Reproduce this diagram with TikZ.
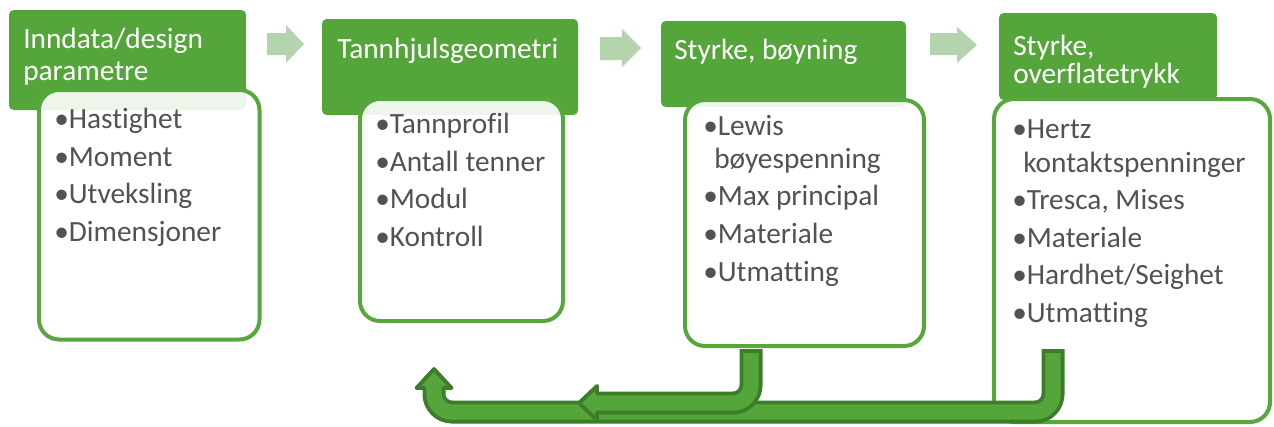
\documentclass[tikz,border=0pt]{standalone}
\usepackage{fontspec}
\setmainfont{Carlito}[Ligatures={NoCommon}]
\usetikzlibrary{fit}
\definecolor{hdr}{RGB}{84,166,58}
\definecolor{bord}{RGB}{86,168,60}
\definecolor{dk}{RGB}{60,125,42}
\definecolor{fl}{RGB}{84,166,58}
\definecolor{lt}{RGB}{180,212,174}
\definecolor{txt}{RGB}{82,82,82}
\begin{document}
\begin{tikzpicture}[x=0.75pt,y=-0.75pt,
  hdrbox/.style={fill=hdr, draw=none, rounded corners=3.5pt, inner sep=0pt},
  bodybox/.style={draw=bord, line width=3pt, fill=white, fill opacity=0.9, rounded corners=15pt, inner sep=0pt},
  hdrtxt/.style={text=white, font=\fontsize{22}{24}\selectfont, anchor=base west, inner sep=0pt},
  item/.style={text=txt, font=\fontsize{22}{24}\selectfont, anchor=base west, inner sep=0pt},
  smallarrow/.style={fill=lt, draw=none},
  pipeout/.style={draw=dk, line width=17.25pt, line cap=butt, rounded corners=13.5pt},
  pipein/.style={draw=fl, line width=11.5pt, line cap=butt, rounded corners=13.5pt},
  headfill/.style={fill=fl, draw=none},
  headline/.style={draw=dk, line width=2.9pt, line join=round, line cap=round}
]
\useasboundingbox (0,0) rectangle (1274,426);
\clip (0,0) rectangle (1274,426);

% headers
\node[hdrbox, fit={(9,10) (246,110)}] (h1) {};
\node[hdrbox, fit={(322,19) (578,115)}] (h2) {};
\node[hdrbox, fit={(661,21) (906,107)}] (h3) {};
\node[hdrbox, fit={(999,13) (1217,100)}] (h4) {};

% bodies
\node[bodybox, fit={(39,90) (259.5,339.5)}] (b1) {};
\node[bodybox, fit={(360,99) (563,321)}] (b2) {};
\node[bodybox, fit={(685,100) (924,346)}] (b3) {};
\node[bodybox, fit={(994,99) (1270,422)}] (b4) {};

% small arrows
\fill[smallarrow] (267,33) -- (286,33) -- (286,25) -- (304,44) -- (286,63) -- (286,55) -- (267,55) -- cycle;
\fill[smallarrow] (600,37) -- (622,37) -- (622,29) -- (641,48) -- (622,67) -- (622,60) -- (600,60) -- cycle;
\fill[smallarrow] (930,33) -- (957,33) -- (957,27) -- (977,45) -- (957,63) -- (957,55) -- (930,55) -- cycle;

% feedback arrow B (from box 4)
\coordinate (bS) at (1053,349);
\coordinate (bS2) at (1053,353);
\coordinate (bK) at (1053,412);
\coordinate (bL) at (434,412);
\coordinate (bE) at (434,388);
\draw[pipeout] (bS) -- (bK) -- (bL) -- (bE);
\draw[pipein] (bS2) -- (bK) -- (bL) -- (bE);
\fill[headfill] (416.5,388) -- (434,369) -- (451.5,388) -- cycle;
\draw[headline] (434-9.5,388) -- (416.5,388) -- (434,369) -- (451.5,388) -- (434+9.5,388);

% feedback arrow A (from box 3)
\coordinate (aS) at (751,349);
\coordinate (aS2) at (751,353);
\coordinate (aK) at (751,403);
\coordinate (aE) at (597,403);
\draw[pipeout] (aS) -- (aK) -- (aE);
\draw[pipein] (aS2) -- (aK) -- (aE);
\fill[headfill] (597,386) -- (579,403) -- (597,420) -- cycle;
\draw[headline] (597,403-9.5) -- (597,386) -- (579,403) -- (597,420) -- (597,403+9.5);

% header texts
\node[hdrtxt] (t1a) at (23,48) {Inndata/design};
\node[hdrtxt] (t1b) at (23,80) {parametre};
\node[hdrtxt] (t2) at (337,58) {Tannhjulsgeometri};
\node[hdrtxt] (t3) at (674,59) {Styrke, bøyning};
\node[hdrtxt] (t4a) at (1013,55) {Styrke,};
\node[hdrtxt] (t4b) at (1013,83) {overflatetrykk};

% items box 1
\node[item] (i11) at (54,128) {•Hastighet};
\node[item] (i12) at (54,166) {•Moment};
\node[item] (i13) at (54,203) {•Utveksling};
\node[item] (i14) at (54,241) {•Dimensjoner};
% items box 2
\node[item] (i21) at (375,133) {•Tannprofil};
\node[item] (i22) at (375,171) {•Antall tenner};
\node[item] (i23) at (375,208) {•Modul};
\node[item] (i24) at (375,246) {•Kontroll};
% items box 3
\node[item] (i31) at (703,135) {•Lewis};
\node[item] (i31b) at (714,168) {bøyespenning};
\node[item] (i32) at (703,205) {•Max principal};
\node[item] (i33) at (703,243) {•Materiale};
\node[item] (i34) at (703,281) {•Utmatting};
% items box 4
\node[item] (i41) at (1012,138) {•Hertz};
\node[item] (i41b) at (1023,172) {kontaktspenninger};
\node[item] (i42) at (1012,209) {•Tresca, Mises};
\node[item] (i43) at (1012,247) {•Materiale};
\node[item] (i44) at (1012,284) {•Hardhet/Seighet};
\node[item] (i45) at (1012,322) {•Utmatting};
\end{tikzpicture}
\end{document}
